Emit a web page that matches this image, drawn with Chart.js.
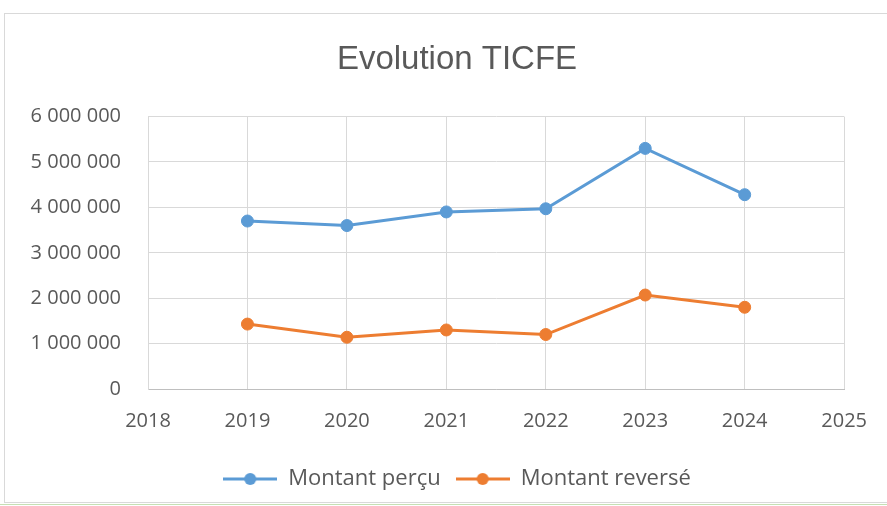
<!DOCTYPE html>
<html>
<head>
<meta charset="utf-8">
<script src="https://cdn.jsdelivr.net/npm/chart.js@4/dist/chart.umd.min.js"></script>
<style>
  body { margin: 0; background: #fff; }
  #wrap { position: relative; width: 887px; height: 506px; overflow: hidden; }
  #frame { position: absolute; left: 4px; top: 13px; width: 900px; height: 490px; border: 1px solid #d9d9d9; box-sizing: border-box; }
  #sheetline { position: absolute; left: 0; top: 504px; width: 887px; height: 1px; background: #c6e0b4; }
  canvas { position: absolute; left: 0; top: 0; }
</style>
</head>
<body>
<div id="wrap">
  <div id="frame"></div>
  <div id="sheetline"></div>
  <canvas id="chart" width="887" height="506"></canvas>
</div>
<script>
// values
const years = [2019, 2020, 2021, 2022, 2023, 2024];
const montantPercu = [3700000, 3600000, 3900000, 3970000, 5300000, 4280000];
const montantReverse = [1430000, 1140000, 1300000, 1200000, 2070000, 1800000];
const xTicks = [2018, 2019, 2020, 2021, 2022, 2023, 2024, 2025];
const yTicks = [0, 1000000, 2000000, 3000000, 4000000, 5000000, 6000000];

const blue = '#5b9bd5';
const orange = '#ed7d31';
const textGrey = '#595959';
const gridGrey = '#d9d9d9';

function toPoints(vals) {
  return vals.map((v, i) => ({ x: years[i], y: v }));
}

function spaced(v) {
  return String(v).replace(/\B(?=(\d{3})+(?!\d))/g, ' ');
}

// legend marker: short line with dot in the middle, like excel
function legendMarker(color) {
  const c = document.createElement('canvas');
  c.width = 54;
  c.height = 14;
  const g = c.getContext('2d');
  g.strokeStyle = color;
  g.lineWidth = 3;
  g.beginPath();
  g.moveTo(0, 7);
  g.lineTo(54, 7);
  g.stroke();
  g.fillStyle = color;
  g.beginPath();
  g.arc(27, 7, 6, 0, Math.PI * 2);
  g.fill();
  return c;
}
const markers = [legendMarker(blue), legendMarker(orange)];

const ctx = document.getElementById('chart').getContext('2d');
const myChart = new Chart(ctx, {
  type: 'line',
  data: {
    datasets: [{
      label: 'Montant perçu',
      data: toPoints(montantPercu),
      borderColor: blue,
      backgroundColor: blue,
      borderWidth: 3,
      pointRadius: 6,
      pointBorderWidth: 1
    }, {
      label: 'Montant reversé',
      data: toPoints(montantReverse),
      borderColor: orange,
      backgroundColor: orange,
      borderWidth: 3,
      pointRadius: 6,
      pointBorderWidth: 1
    }]
  },
  options: {
    responsive: false,
    animation: false,
    layout: { padding: { left: 28, right: 1, top: 15, bottom: 6 } },
    elements: { point: { pointStyle: 'circle' }, line: { tension: 0 } },
    scales: {
      x: {
        type: 'linear',
        min: xTicks[0],
        max: xTicks[xTicks.length - 1],
        afterBuildTicks: (axis) => { axis.ticks = xTicks.map(v => ({ value: v })); },
        ticks: {
          padding: 20,
          color: textGrey,
          font: { family: 'Open Sans', size: 20 },
          callback: (v) => String(v)
        },
        grid: { color: gridGrey, drawTicks: false },
        border: { color: '#bfbfbf' }
      },
      y: {
        min: 0,
        max: yTicks[yTicks.length - 1],
        afterBuildTicks: (axis) => { axis.ticks = yTicks.map(v => ({ value: v })); },
        afterFit: (axis) => { axis.width = 120; },
        ticks: {
          padding: 27,
          color: textGrey,
          font: { family: 'Open Sans', size: 20 },
          callback: (v) => spaced(v)
        },
        grid: { color: gridGrey, drawTicks: false },
        border: { color: gridGrey }
      },
      // empty right axis, only keeps room so the title centres like excel
      spacer: {
        position: 'right',
        afterFit: (axis) => { axis.width = 38; },
        ticks: { display: false },
        grid: { display: false },
        border: { display: false }
      }
    },
    plugins: {
      title: {
        display: true,
        text: 'Evolution TICFE',
        color: textGrey,
        font: { family: 'Liberation Sans', size: 33, weight: 'normal' },
        padding: { top: 25, bottom: 37 }
      },
      legend: {
        position: 'bottom',
        labels: {
          usePointStyle: true,
          pointStyleWidth: 54,
          color: textGrey,
          font: { family: 'Open Sans', size: 22 },
          padding: 15,
          generateLabels: (chart) => {
            const items = Chart.defaults.plugins.legend.labels.generateLabels(chart);
            items.forEach((it, i) => { it.pointStyle = markers[i]; });
            return items;
          }
        }
      },
      tooltip: { enabled: false }
    }
  }
});
</script>
</body>
</html>
